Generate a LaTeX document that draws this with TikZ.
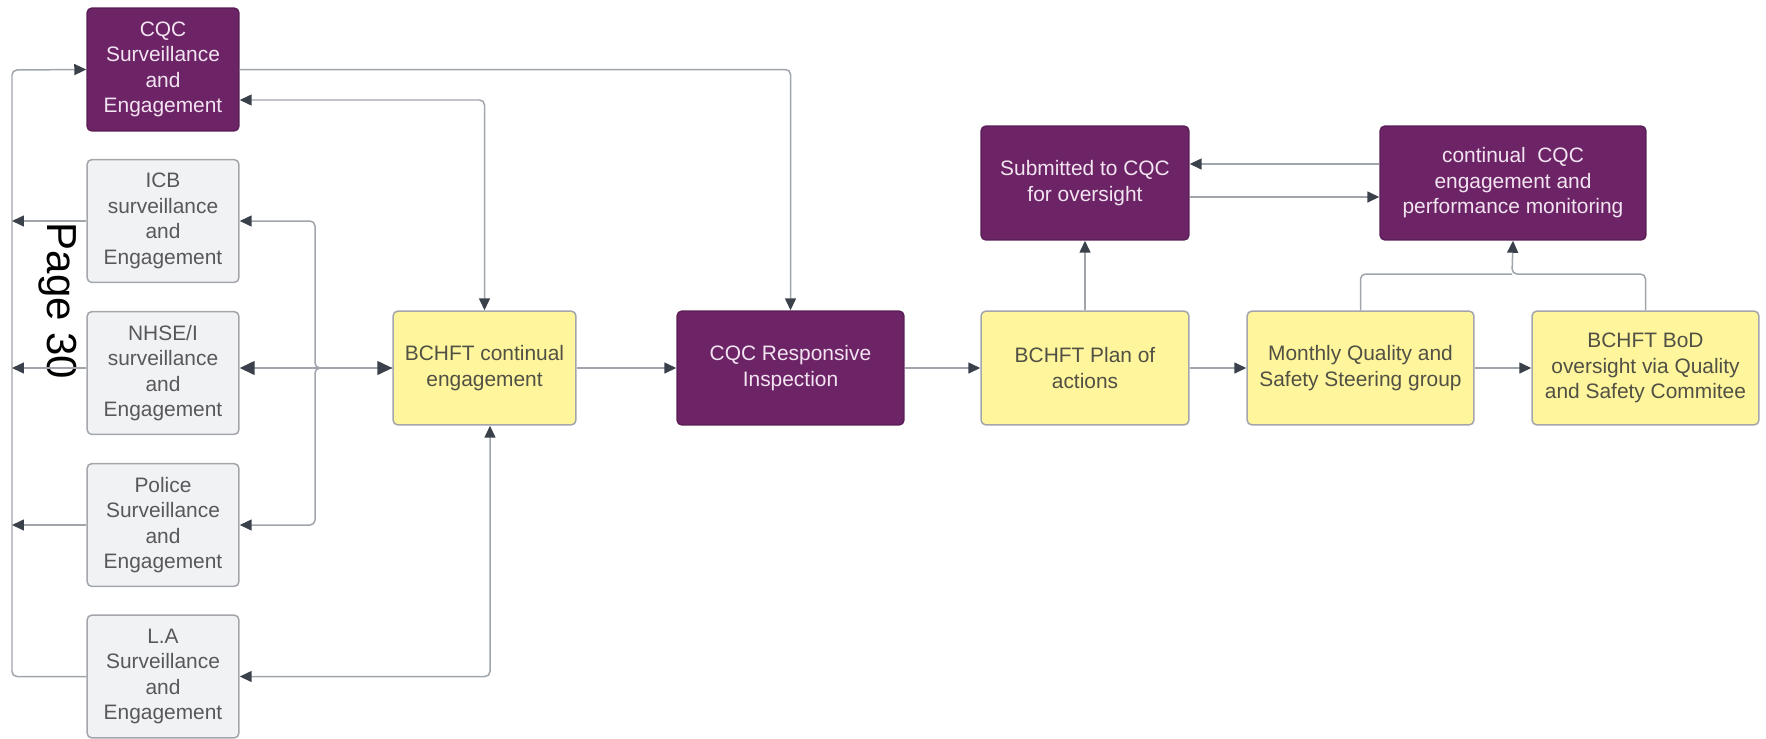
\documentclass[tikz,border=0pt]{standalone}
\usepackage{fontspec}
\setmainfont{Liberation Sans}
\usepackage{tikz}
\usepackage{xcolor}
\usetikzlibrary{arrows.meta}
\usetikzlibrary{positioning}

\definecolor{cqcpurple}{RGB}{109,36,103}
\definecolor{purpletext}{RGB}{242,228,240}
\definecolor{bchftyellow}{RGB}{255,245,157}
\definecolor{yellowtext}{RGB}{80,80,68}
\definecolor{boxgrey}{RGB}{241,242,244}
\definecolor{greyborder}{RGB}{163,166,171}
\definecolor{greytext}{RGB}{88,88,90}
\definecolor{linegrey}{RGB}{160,165,171}
\definecolor{tipdark}{RGB}{58,65,75}

\begin{document}
\begin{tikzpicture}[x=0.02cm, y=-0.02cm,
	box/.style={draw, rounded corners=0.1cm, line width=0.03cm, align=center, inner sep=2pt, font=\fontsize{11.9}{14.5}\selectfont},
	purplebox/.style={box, fill=cqcpurple, draw=cqcpurple!85!black, text=purpletext},
	greybox/.style={box, fill=boxgrey, draw=greyborder, text=greytext, minimum width=3.04cm, minimum height=2.46cm},
	yellowbox/.style={box, fill=bchftyellow, draw=greyborder, text=yellowtext},
	link/.style={draw=linegrey, line width=0.03cm, rounded corners=0.1cm},
	tip/.style={arrows={-{Triangle[length=0.24cm, width=0.22cm, color=tipdark]}}},
	bigtip/.style={arrows={{Triangle[length=0.3cm, width=0.28cm, color=tipdark]}-{Triangle[length=0.3cm, width=0.28cm, color=tipdark]}}},
	twotip/.style={arrows={{Triangle[length=0.24cm, width=0.22cm, color=tipdark]}-{Triangle[length=0.24cm, width=0.22cm, color=tipdark]}}}]
	\useasboundingbox (0,0) rectangle (1766,738);
				% left column
				\node[purplebox, minimum width=3.04cm, minimum height=2.46cm] (cqcsurv) at (163, 69.5) {CQC\\Surveillance\\and\\Engagement};
				\node[greybox] (icb) at (163, 221) {ICB\\surveillance\\and\\Engagement};
				\node[greybox] (nhse) at (163, 373) {NHSE/I\\surveillance\\and\\Engagement};
				\node[greybox] (police) at (163, 525) {Police\\Surveillance\\and\\Engagement};
				\node[greybox] (la) at (163, 676.5) {L.A\\Surveillance\\and\\Engagement};
				\node[rotate=-90, font=\fontsize{23.9}{28}\selectfont] (pagenum) at (58, 301) {Page 30};
				% main row
				\node[yellowbox, minimum width=3.66cm, minimum height=2.28cm] (bchft) at (484.5, 368) {BCHFT continual\\engagement};
				\node[purplebox, minimum width=4.54cm, minimum height=2.28cm] (cqcresp) at (790.5, 368) {CQC Responsive\\Inspection};
				\node[yellowbox, minimum width=4.16cm, minimum height=2.28cm] (plan) at (1085, 368) {BCHFT Plan of\\actions};
				\node[yellowbox, minimum width=4.54cm, minimum height=2.28cm] (monthly) at (1360.5, 368) {Monthly Quality and\\Safety Steering group};
				\node[yellowbox, minimum width=4.54cm, minimum height=2.28cm] (bod) at (1645.5, 368) {BCHFT BoD\\oversight via Quality\\and Safety Commitee};
				% top row
				\node[purplebox, minimum width=4.16cm, minimum height=2.28cm] (submitted) at (1085, 183) {Submitted to CQC\\for oversight};
				\node[purplebox, minimum width=5.32cm, minimum height=2.28cm] (monitor) at (1513, 183) {continual\ \ CQC\\engagement and\\performance monitoring};
				% routing points
				\coordinate (busTop) at (12, 70);
				\coordinate (split) at (315, 368);
				\coordinate (join) at (1512, 274);
				% connectors
				\draw[link, tip] (la.west) -| (busTop) -- (cqcsurv.west);
				\draw[link, tip] (icb.west) -- (icb.west -| busTop);
				\draw[link, tip] (nhse.west |- bchft.west) -- (nhse.west |- bchft.west -| busTop);
				\draw[link, tip] (police.west) -- (police.west -| busTop);
				\draw[link, tip] (cqcsurv.east) -| (cqcresp.north);
				\draw[link, twotip] ([yshift=-0.61cm]cqcsurv.east) -| (bchft.north);
				\draw[link, tip] (bchft.west) -- (split) |- (icb.east);
				\draw[link, tip] (bchft.west) -- (split) |- (police.east);
				\draw[link, bigtip] (nhse.east |- bchft.west) -- (bchft.west);
				\draw[link, twotip] (la.east) -| ([xshift=0.11cm]bchft.south);
				\draw[link, tip] (bchft) -- (cqcresp);
				\draw[link, tip] (cqcresp) -- (plan);
				\draw[link, tip] (plan) -- (monthly);
				\draw[link, tip] (monthly) -- (bod);
				\draw[link, tip] (plan) -- (submitted);
				\draw[link, tip] ([yshift=-0.28cm]submitted.east) -- ([yshift=-0.28cm]monitor.west);
				\draw[link, tip] ([yshift=0.38cm]monitor.west) -- ([yshift=0.38cm]submitted.east);
				\draw[link] (monthly.north) |- (join);
				\draw[link, tip] (bod.north) |- (join) -- (monitor.south);
\end{tikzpicture}
\end{document}
